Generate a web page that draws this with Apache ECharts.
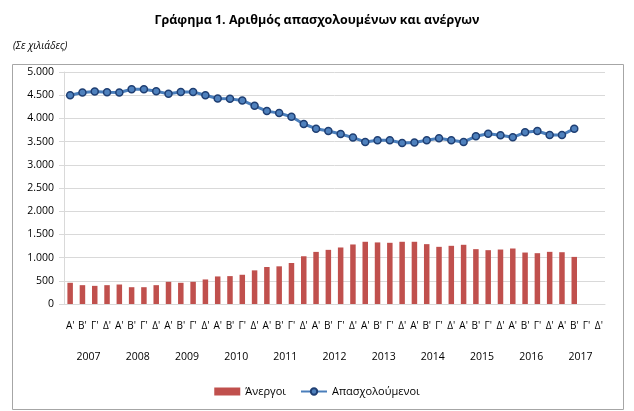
<!DOCTYPE html>
<html><head><meta charset="utf-8">
<script src="https://cdn.jsdelivr.net/npm/echarts@6/dist/echarts.min.js"></script>
<style>html,body{margin:0;padding:0;background:#fff}#c{width:634px;height:411px}</style>
</head><body><div id="c"></div>
<script>
const years = ['2007','2008','2009','2010','2011','2012','2013','2014','2015','2016','2017'];
const quarterNames = ["Α'","Β'","Γ'","Δ'"];
const unemployed = [457,406,391,406,420,362,362,406,478,457,478,529,594,601,630,725,797,812,884,1029,1123,1167,1218,1283,1341,1327,1319,1341,1341,1290,1232,1254,1276,1182,1160,1174,1196,1109,1095,1124,1116,1015,null,null];
const employed = [4500,4557,4579,4564,4557,4629,4629,4586,4529,4571,4571,4500,4429,4421,4386,4271,4157,4114,4036,3879,3779,3729,3664,3586,3493,3529,3529,3471,3479,3529,3571,3529,3493,3614,3671,3636,3593,3700,3729,3643,3643,3779,null,null];
const categories = [];
years.forEach(y => quarterNames.forEach(q => categories.push(q)));

const FONT = 'Open Sans';
const fmt = v => String(v).replace(/\B(?=(\d{3})+(?!\d))/g, '.');
const chart = echarts.init(document.getElementById('c'));
chart.setOption({
  animation: false,
  textStyle: {fontFamily: FONT},
  title: [{
    text: 'Γράφημα 1. Αριθμός απασχολουμένων και ανέργων',
    left: 'center', top: 9,
    textStyle: {fontFamily: FONT, fontSize: 12.5, fontWeight: 'bold', color: '#000'}
  }, {
    text: '(Σε χιλιάδες)', left: 8, top: 36,
    textStyle: {fontFamily: FONT, fontSize: 10, fontStyle: 'italic', fontWeight: 'normal', color: '#000'}
  }],
  graphic: [{
    type: 'rect', left: 10, top: 62, shape: {width: 611, height: 345},
    style: {fill: 'none', stroke: '#a6a6a6', lineWidth: 1}, silent: true, z: -1
  }],
  legend: {
    top: 381, left: 'center',
    itemGap: 14,
    textStyle: {fontFamily: FONT, fontSize: 11, color: '#000'},
    data: [
      {name: 'Άνεργοι', icon: 'rect', itemStyle: {color: '#c0504d'}},
      {name: 'Απασχολούμενοι'}
    ],
    itemWidth: 26, itemHeight: 8
  },
  grid: {left: 64, right: 29, top: 72, bottom: 107, containLabel: false},
  xAxis: [{
    type: 'category', data: categories, position: 'bottom',
    axisLine: {lineStyle: {color: '#d9d9d9'}},
    axisTick: {interval: 0, length: 30, lineStyle: {color: '#d9d9d9'}},
    axisLabel: {interval: 0, margin: 17, fontSize: 10, color: '#000', fontFamily: FONT}
  }, {
    type: 'category', data: years, position: 'bottom',
    axisLine: {show: false},
    axisTick: {interval: 0, length: 61, lineStyle: {color: '#d9d9d9'}},
    axisLabel: {interval: 0, margin: 48, fontSize: 10.5, color: '#000', fontFamily: FONT}
  }],
  yAxis: {
    type: 'value', min: 0, max: 5000, interval: 500,
    axisLine: {show: true, lineStyle: {color: '#d9d9d9'}},
    axisTick: {show: true, length: 5, lineStyle: {color: '#d9d9d9'}},
    splitLine: {lineStyle: {color: '#d9d9d9'}},
    axisLabel: {formatter: fmt, fontSize: 10.5, color: '#000', margin: 10, fontFamily: FONT}
  },
  series: [{
    name: 'Άνεργοι', type: 'bar', data: unemployed, xAxisIndex: 0,
    barWidth: 5.5, itemStyle: {color: '#c0504d'}
  }, {
    name: 'Απασχολούμενοι', type: 'line', data: employed, xAxisIndex: 0,
    symbol: 'circle', symbolSize: 7,
    lineStyle: {color: '#4a7ebb', width: 3},
    itemStyle: {color: '#4f81bd', borderColor: '#1f3f73', borderWidth: 1.5}
  }]
});
</script></body></html>
